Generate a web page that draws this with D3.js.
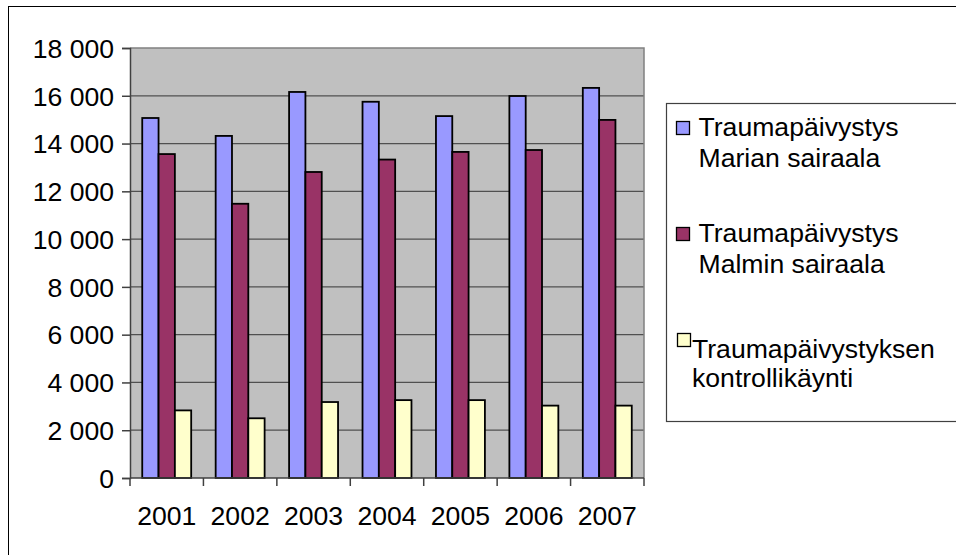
<!DOCTYPE html>
<html><head><meta charset="utf-8">
<script src="https://cdn.jsdelivr.net/npm/d3@7/dist/d3.min.js"></script>
<style>
html,body{margin:0;padding:0;background:#fff;overflow:hidden}
text{font-family:"Liberation Sans",Arial,sans-serif;fill:#000}
</style></head>
<body>
<script>
const years = ["2001","2002","2003","2004","2005","2006","2007"];
const seriesNames = ["Traumapäivystys Marian sairaala","Traumapäivystys Malmin sairaala","Traumapäivystyksen kontrollikäynti"];
const legendLines = [["Traumapäivystys","Marian sairaala"],["Traumapäivystys","Malmin sairaala"],["Traumapäivystyksen","kontrollikäynti"]];
const marian = [15070, 14320, 16160, 15750, 15150, 15990, 16330];
const malmi = [13560, 11480, 12810, 13330, 13650, 13730, 14990];
const kontrolli = [2830, 2500, 3180, 3260, 3260, 3030, 3030];
const yTicks = [0,2000,4000,6000,8000,10000,12000,14000,16000,18000];
const colors = ["#9999ff","#993366","#ffffcc"];

const W=956,H=555,FS=26.6;
const svg=d3.select("body").append("svg").attr("width",W).attr("height",H);
const data=[marian,malmi,kontrolli];

// outer frame
svg.append("rect").attr("x",8.5).attr("y",6.5).attr("width",1000).attr("height",700)
  .attr("fill","#fff").attr("stroke","#000").attr("stroke-width",1);

const L=130,R=644,T=48,B=478;
const x=d3.scaleBand().domain(years).range([L,R]).padding(0);
const bw=x.bandwidth();
const xs=d3.scaleBand().domain(d3.range(3)).range([bw*0.75/4.5, bw*3.75/4.5]).padding(0);
const y=d3.scaleLinear().domain([0,18000]).range([B,T]);
const loc=d3.formatLocale({decimal:",",thousands:" ",grouping:[3],currency:["",""]});
const fmt=loc.format(",");

// plot bg
svg.append("rect").attr("x",L).attr("y",T).attr("width",R-L).attr("height",B-T).attr("fill","#c0c0c0");
// gridlines
svg.append("g").selectAll("line").data(yTicks.filter(d=>d>0&&d<18000)).join("line")
  .attr("x1",L).attr("x2",R).attr("y1",d=>y(d)).attr("y2",d=>y(d))
  .attr("stroke","#505050").attr("stroke-width",1.3);
// plot border top/right
svg.append("path").attr("d",`M${L},${y(18000)}H${R}V${B}`).attr("fill","none").attr("stroke","#808080").attr("stroke-width",1.5);

// bars
data.forEach((vals,si)=>{
  svg.append("g").selectAll("rect").data(vals).join("rect")
    .attr("x",(d,i)=>x(years[i])+xs(si))
    .attr("y",d=>y(d))
    .attr("width",xs.bandwidth())
    .attr("height",d=>B-y(d))
    .attr("fill",colors[si]).attr("stroke","#000").attr("stroke-width",1.8);
});

// y axis
const yAxis=d3.axisLeft(y).tickValues(yTicks).tickFormat(fmt).tickSize(8).tickPadding(8);
const gy=svg.append("g").attr("transform",`translate(${L},0)`).call(yAxis);
gy.select(".domain").attr("stroke","#404040").attr("stroke-width",1.5);
gy.selectAll(".tick line").attr("stroke","#404040").attr("stroke-width",1.5);
gy.selectAll(".tick text").attr("font-size",FS).attr("font-family","Liberation Sans, Arial, sans-serif").attr("fill","#000").attr("dy","0.35em");

// x axis
const gx=svg.append("g").attr("transform",`translate(0,${B})`);
gx.append("line").attr("x1",L).attr("x2",R).attr("y1",0).attr("y2",0).attr("stroke","#404040").attr("stroke-width",1.5);
const bounds=years.map(d=>x(d)).concat([R]);
gx.selectAll("line.t").data(bounds).join("line").attr("class","t")
  .attr("x1",d=>d).attr("x2",d=>d).attr("y1",0).attr("y2",8).attr("stroke","#404040").attr("stroke-width",1.5);
gx.selectAll("text").data(years).join("text")
  .attr("x",d=>x(d)+bw/2).attr("y",47).attr("text-anchor","middle").attr("font-size",FS).text(d=>d);

// legend
svg.append("rect").attr("x",666.5).attr("y",103.5).attr("width",400).attr("height",318)
  .attr("fill","#fff").attr("stroke","#404040").attr("stroke-width",1.2);
const legPos=[{sx:676,sy:121,tx:698.5,b1:135.5},{sx:676,sy:227,tx:698.5,b1:241.5},{sx:677,sy:333,tx:692,b1:357.5}];
legendLines.forEach((lines,i)=>{
  const p=legPos[i];
  svg.append("rect").attr("x",p.sx+0.5).attr("y",p.sy+0.5).attr("width",13).attr("height",13)
    .attr("fill",colors[i]).attr("stroke","#000").attr("stroke-width",1.3);
  const t=svg.append("text").attr("x",p.tx).attr("y",p.b1).attr("font-size",FS);
  t.append("tspan").attr("x",p.tx).text(lines[0]);
  t.append("tspan").attr("x",p.tx).attr("dy",i===2?29:31).text(lines[1]);
});
</script>
</body></html>
